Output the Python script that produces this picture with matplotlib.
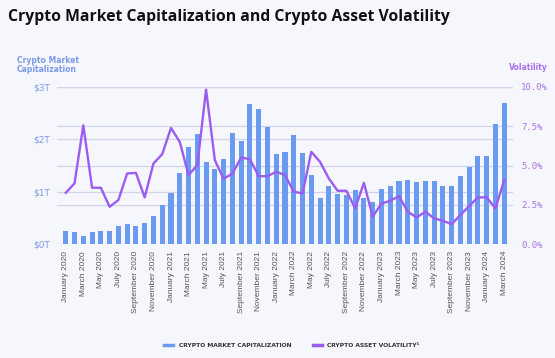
import matplotlib
matplotlib.use("Agg")
import matplotlib.pyplot as plt
from matplotlib.lines import Line2D
import numpy as np

months = ["January", "February", "March", "April", "May", "June", "July",
          "August", "September", "October", "November", "December"]
labels = []
for y in range(2020, 2025):
    for m in months:
        labels.append(f"{m} {y}")
labels = labels[:51]  # January 2020 .. March 2024

market_cap = [0.25, 0.22, 0.16, 0.22, 0.25, 0.25, 0.34, 0.38, 0.34, 0.41, 0.54, 0.75,
              0.98, 1.36, 1.85, 2.11, 1.56, 1.43, 1.63, 2.13, 1.97, 2.67, 2.58, 2.24,
              1.72, 1.76, 2.08, 1.73, 1.32, 0.88, 1.10, 0.96, 0.94, 1.04, 0.87, 0.81,
              1.06, 1.10, 1.21, 1.23, 1.18, 1.20, 1.20, 1.10, 1.10, 1.29, 1.48, 1.69,
              1.68, 2.29, 2.70]
volatility = [3.26, 3.86, 7.56, 3.58, 3.58, 2.37, 2.80, 4.49, 4.53, 2.97, 5.13, 5.72,
              7.39, 6.50, 4.39, 5.02, 9.83, 5.34, 4.15, 4.49, 5.51, 5.40, 4.32, 4.32,
              4.60, 4.39, 3.33, 3.22, 5.87, 5.23, 4.17, 3.39, 3.39, 2.27, 3.90, 1.74,
              2.58, 2.75, 3.05, 2.06, 1.69, 2.06, 1.63, 1.48, 1.27, 1.84, 2.42, 2.97,
              2.97, 2.27, 4.07]
left_ticks = [0, 1, 2, 3]
left_ticklabels = ["$0T", "$1T", "$2T", "$3T"]
right_ticks = [0, 2.5, 5, 7.5, 10]
right_ticklabels = ["0.0%", "2.5%", "5.0%", "7.5%", "10.0%"]

BG = "#f5f7fd"
BAR = "#6b9bf0"
LINE = "#9b5cf0"
GRID = "#d3d3ea"
BLUE_TXT = "#7b9be8"
PURP_TXT = "#a873ec"

fig = plt.figure(figsize=(5.55, 3.58), dpi=100, facecolor=BG)
ax = fig.add_axes([57/555, 1-244/358, (513-57)/555, (244-87)/358])
ax.set_facecolor(BG)
x = np.arange(len(labels))
ax.bar(x, market_cap, width=0.58, color=BAR, zorder=2)
ax.set_xlim(-1.0, 51.0)
ax.set_ylim(0, 3)
ax.set_yticks(left_ticks)
ax.set_yticklabels(left_ticklabels)
ax.tick_params(axis="y", length=0, pad=5, labelsize=6.5, labelcolor=BLUE_TXT)
ax.set_xticks(x[::2])
ax.set_xticklabels(labels[::2], rotation=90, fontsize=6, color="#555555",
                   family="Liberation Sans")
ax.tick_params(axis="x", length=0, pad=5)
for s in ax.spines.values():
    s.set_visible(False)
for t in left_ticks:
    ax.axhline(t, color=GRID, lw=0.9, zorder=0)

ax2 = ax.twinx()
ax2.plot(x, volatility, color=LINE, lw=1.7, zorder=3)
ax2.set_ylim(0, 10)
ax2.set_yticks(right_ticks)
ax2.set_yticklabels(right_ticklabels, family="DejaVu Sans Mono")
ax2.tick_params(axis="y", length=0, pad=6, labelsize=6.5, labelcolor=PURP_TXT)
for s in ax2.spines.values():
    s.set_visible(False)
for t in right_ticks:
    ax.axhline(t * 0.3, color=GRID, lw=0.9, zorder=0)

title = fig.text(8/555, 1-17/358, "Crypto Market Capitalization and Crypto Asset Volatility",
                 fontsize=12, fontweight="bold", family="Open Sans", color="#111111",
                 va="center", ha="left")
fig.canvas.draw()
w = title.get_window_extent().width
title.set_fontsize(12 * 440 / w)

fig.text(17/555, 1-65/358, "Crypto Market\nCapitalization", fontsize=5.5,
         fontweight="bold", color=BLUE_TXT, va="center", ha="left", linespacing=1.0)
fig.text(548/555, 1-68/358, "Volatility", fontsize=5.5, fontweight="bold",
         color=PURP_TXT, va="center", ha="right")

handles = [Line2D([], [], color=BAR, lw=2.5), Line2D([], [], color=LINE, lw=2.5)]
leg = fig.legend(handles, ["CRYPTO MARKET CAPITALIZATION", "CRYPTO ASSET VOLATILITY\u00b9"],
                 loc="center", bbox_to_anchor=(292/555, 1-345/358), ncol=2,
                 frameon=False, handlelength=1.5, handletextpad=0.9, columnspacing=3.6,
                 prop={"size": 4.3, "weight": "bold"})
for t in leg.get_texts():
    t.set_color("#333333")

fig.savefig("out.png", dpi=100, facecolor=BG)
